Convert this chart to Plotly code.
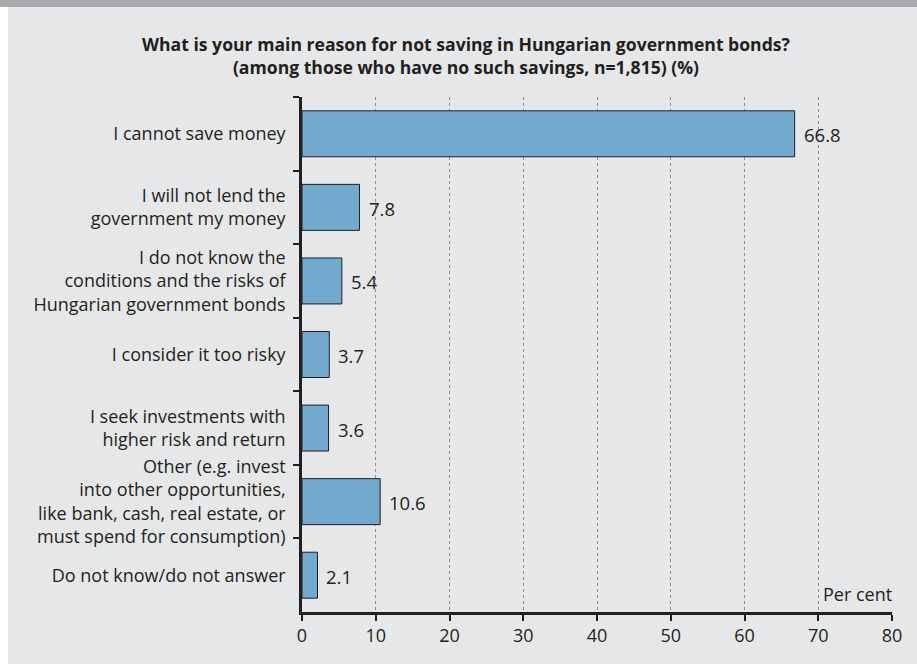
import plotly.graph_objects as go

# Survey answers and shares (per cent)
reasons = [
    "I cannot save money",
    "I will not lend the<br>government my money",
    "I do not know the<br>conditions and the risks of<br>Hungarian government bonds",
    "I consider it too risky",
    "I seek investments with<br>higher risk and return",
    "Other (e.g. invest<br>into other opportunities,<br>like bank, cash, real estate, or<br>must spend for consumption)",
    "Do not know/do not answer",
]
shares = [66.8, 7.8, 5.4, 3.7, 3.6, 10.6, 2.1]
x_ticks = [0, 10, 20, 30, 40, 50, 60, 70, 80]

W, H = 917, 664
ML, MR, MT, MB = 302, 25, 97, 52
TEXT = "#231f20"
FONT = "Open Sans"

fig = go.Figure()
fig.add_trace(go.Bar(
    x=shares,
    y=reasons,
    orientation="h",
    marker=dict(color="#71a9cf", line=dict(color=TEXT, width=1)),
    hoverinfo="skip",
))

# value labels next to each bar
for r, v in zip(reasons, shares):
    fig.add_annotation(x=v, y=r, text=f"{v:.1f}", showarrow=False,
                       xanchor="left", xshift=7, yshift=-1,
                       font=dict(family=FONT, size=18.5, color=TEXT))

fig.add_annotation(x=80, y=0, xref="x", yref="paper", text="Per cent",
                   showarrow=False, xanchor="right", yanchor="bottom",
                   xshift=2, yshift=4, font=dict(family=FONT, size=18, color=TEXT))

# frame: grey band on top, white strip on the left
pw = W - ML - MR
ph = H - MT - MB
def px_x(p):
    return (p - ML) / pw
def px_y(p):
    return 1 - (p - MT) / ph

fig.add_shape(type="rect", xref="paper", yref="paper", layer="below",
              x0=px_x(0), x1=px_x(W), y0=px_y(0), y1=px_y(7),
              fillcolor="#a7a9ac", line_width=0)
fig.add_shape(type="rect", xref="paper", yref="paper", layer="below",
              x0=px_x(0), x1=px_x(8), y0=px_y(7), y1=px_y(H),
              fillcolor="white", line_width=0)

fig.update_layout(
    width=W, height=H,
    margin=dict(l=ML, r=MR, t=MT, b=MB),
    paper_bgcolor="#e6e7e8",
    plot_bgcolor="#e6e7e8",
    bargap=0.375,
    showlegend=False,
    font=dict(family=FONT, size=18, color=TEXT),
    title=dict(
        text="<b>What is your main reason for not saving in Hungarian government bonds?<br>"
             "(among those who have no such savings, n=1,815) (%)</b>",
        x=466 / W, xanchor="center", y=1 - 51 / H, yanchor="top",
        font=dict(family=FONT, size=17.6, color=TEXT),
    ),
    xaxis=dict(
        range=[0, 80], tickvals=x_ticks,
        showgrid=True, gridcolor="#8e8e8e", griddash="dot", gridwidth=1,
        zeroline=False,
        showline=True, linecolor=TEXT, linewidth=2.5,
        ticks="outside", ticklen=6, tickwidth=2, tickcolor=TEXT,
        tickfont=dict(family=FONT, size=18, color=TEXT),
        fixedrange=True,
    ),
    yaxis=dict(
        type="category", autorange="reversed",
        showgrid=False, zeroline=False,
        showline=True, linecolor=TEXT, linewidth=2.5,
        ticks="outside", tickson="boundaries", ticklen=6, tickwidth=2, tickcolor=TEXT,
        ticklabelstandoff=10,
        tickfont=dict(family=FONT, size=18, color=TEXT),
        fixedrange=True,
    ),
)

fig.write_html("out.html", config={"displayModeBar": False})
